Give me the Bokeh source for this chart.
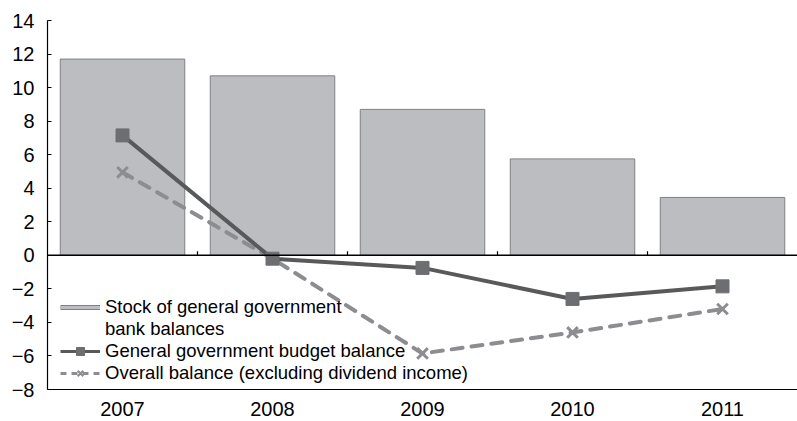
from bokeh.plotting import figure
from bokeh.models import (Range1d, FixedTicker, Span, Legend, LegendItem,
                          ColumnDataSource)
from bokeh.transform import dodge
from bokeh.embed import file_html
from bokeh.resources import INLINE

# Fiscal indicators, per cent of GDP
years = ["2007", "2008", "2009", "2010", "2011"]
bank_balances = [11.7, 10.7, 8.7, 5.75, 3.45]
budget_balance = [7.15, -0.2, -0.75, -2.6, -1.85]
overall_balance = [4.95, -0.2, -5.85, -4.6, -3.2]

y_ticks = [-8, -6, -4, -2, 0, 2, 4, 6, 8, 10, 12, 14]

FONT = "Liberation Sans"
BAR_FILL = "#bcbdc0"
BAR_LINE = "#7f8083"
SOLID = "#58595b"
SOLID_MARK = "#6d6e71"
DASHED = "#8c8d90"

xs = [i + 0.5 for i in range(len(years))]
src = ColumnDataSource(dict(x=xs, bank=bank_balances,
                            budget=budget_balance, overall=overall_balance))

p = figure(width=797, height=421, output_backend="svg", toolbar_location=None,
           x_range=Range1d(0, len(years)), y_range=Range1d(-8, 14),
           min_border_left=47, min_border_right=0, min_border_top=20,
           min_border_bottom=32)
p.outline_line_color = None
p.background_fill_color = "white"
p.border_fill_color = "white"
p.grid.visible = False

# y axis: ticks point inward
ya = p.yaxis[0]
ya.ticker = FixedTicker(ticks=y_ticks)
ya.major_label_overrides = {t: (str(t).replace("-", "\u2212")) for t in y_ticks}
ya.major_tick_in = 4
ya.major_tick_out = 0
ya.minor_tick_in = 0
ya.minor_tick_out = 0
ya.axis_line_color = "black"
ya.axis_line_width = 1.2
ya.major_tick_line_color = "black"
ya.major_label_text_font = FONT
ya.major_label_text_font_size = "20px"
ya.major_label_text_color = "black"
ya.major_label_standoff = 13

# x axis: year labels only
xa = p.xaxis[0]
xa.ticker = FixedTicker(ticks=xs)
xa.major_label_overrides = {x: y for x, y in zip(xs, years)}
xa.major_tick_in = 0
xa.major_tick_out = 0
xa.minor_tick_in = 0
xa.minor_tick_out = 0
xa.axis_line_color = "black"
xa.axis_line_width = 1.2
xa.major_label_text_font = FONT
xa.major_label_text_font_size = "20px"
xa.major_label_text_color = "black"
xa.major_label_standoff = 12

# bars
bars = p.vbar(x="x", top="bank", bottom=0, width=0.83, source=src,
              fill_color=BAR_FILL, line_color=BAR_LINE, line_width=1)

# zero line with small category separators
p.add_layout(Span(location=0, dimension="width", line_color="black",
                  line_width=1.5))
sep = list(range(1, len(years)))
p.segment(x0=sep, x1=sep, y0=[0] * len(sep), y1=[0.25] * len(sep),
          line_color="black", line_width=1.2)

# overall balance (dashed, crosses)
dl = p.line("x", "overall", source=src, line_color=DASHED, line_width=4,
            line_dash="11 9", line_cap="round")
dm = p.scatter("x", "overall", source=src, marker="x", size=15,
               line_color=DASHED, line_width=3)

# budget balance (solid, squares)
sl = p.line("x", "budget", source=src, line_color=SOLID, line_width=4)
sm = p.scatter("x", "budget", source=src, marker="square", size=13,
               fill_color=SOLID_MARK, line_color=SOLID_MARK)

# legend-only renderers, shifted far off the visible x range
off = dodge("x", -100)
lg_outer = p.line(off, "bank", source=src, line_color=BAR_LINE, line_width=5)
lg_inner = p.line(off, "bank", source=src, line_color=BAR_FILL, line_width=3)
lg_blank = p.line(off, "bank", source=src, line_alpha=0)
lg_sl = p.line(off, "budget", source=src, line_color=SOLID, line_width=3)
lg_sm = p.scatter(off, "budget", source=src, marker="square",
                  fill_color=SOLID_MARK, line_color=SOLID_MARK)
lg_dl = p.line(off, "overall", source=src, line_color=DASHED,
               line_width=3, line_dash="6 5")
lg_dm = p.scatter(off, "overall", source=src, marker="x",
                  line_color=DASHED, line_width=2)

legend = Legend(items=[
    LegendItem(label="Stock of general government", renderers=[lg_outer, lg_inner]),
    LegendItem(label="bank balances", renderers=[lg_blank]),
    LegendItem(label="General government budget balance", renderers=[lg_sl, lg_sm]),
    LegendItem(label="Overall balance (excluding dividend income)", renderers=[lg_dl, lg_dm]),
], location=(13, 5))
legend.border_line_alpha = 0
legend.background_fill_alpha = 0
legend.padding = 0
legend.margin = 0
legend.spacing = 0
legend.glyph_width = 40
legend.glyph_height = 20
legend.label_height = 21
legend.label_standoff = 5
legend.label_text_font = FONT
legend.label_text_font_size = "18.5px"
legend.label_text_color = "black"
legend.label_text_line_height = 1.0
p.add_layout(legend, "center")

open("out.html", "w").write(file_html(p, INLINE))
